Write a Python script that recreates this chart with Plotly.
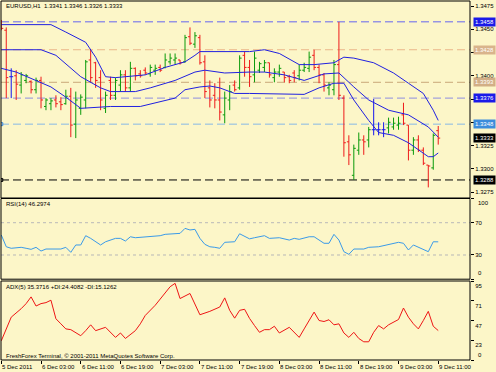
import plotly.graph_objects as go

# ---------------- data ----------------
symbol_title = "EURUSD,H1  1.3341 1.3346 1.3326 1.3333"
rsi_title = "RSI(14) 46.2974"
adx_title = "ADX(5) 35.3716 +DI:24.4082 -DI:15.1262"
copyright_text = "FreshForex Terminal, \u00a9 2001-2011 MetaQuotes Software Corp."

bars = list(range(89))  # hourly bars, 5 Dec 19:00 .. 9 Dec 11:00

opens = [1.3458,1.3449,1.3399,1.3400,1.3390,1.3395,1.3394,1.3385,1.3395,1.3367,
         1.3370,1.3374,1.3372,1.3370,1.3378,1.3348,1.3365,1.3374,1.3417,1.3414,
         1.3398,1.3365,1.3395,1.3379,1.3390,1.3401,1.3387,1.3408,1.3402,1.3406,
         1.3402,1.3406,1.3409,1.3409,1.3415,1.3417,1.3417,1.3415,1.3442,1.3434,
         1.3441,1.3415,1.3387,1.3379,1.3374,1.3358,1.3374,1.3390,1.3387,1.3422,
         1.3409,1.3401,1.3406,1.3409,1.3414,1.3398,1.3404,1.3404,1.3399,1.3403,
         1.3400,1.3406,1.3408,1.3422,1.3409,1.3401,1.3387,1.3385,1.3412,1.3376,
         1.3329,1.3293,1.3320,1.3331,1.3331,1.3342,1.3342,1.3342,1.3344,1.3345,
         1.3347,1.3358,1.3347,1.3320,1.3331,1.3320,1.3304,1.3301,1.3341]
highs = [1.3460,1.3452,1.3408,1.3406,1.3404,1.3402,1.3395,1.3398,1.3399,1.3376,
         1.3376,1.3379,1.3377,1.3385,1.3387,1.3383,1.3380,1.3417,1.3428,1.3415,
         1.3406,1.3383,1.3399,1.3398,1.3406,1.3406,1.3415,1.3409,1.3406,1.3409,
         1.3412,1.3412,1.3412,1.3424,1.3424,1.3424,1.3417,1.3444,1.3452,1.3447,
         1.3444,1.3422,1.3395,1.3392,1.3398,1.3383,1.3390,1.3395,1.3422,1.3426,
         1.3417,1.3426,1.3415,1.3417,1.3414,1.3408,1.3412,1.3404,1.3401,1.3406,
         1.3412,1.3414,1.3426,1.3428,1.3412,1.3403,1.3393,1.3417,1.3458,1.3379,
         1.3336,1.3326,1.3339,1.3336,1.3345,1.3375,1.3350,1.3350,1.3355,1.3355,
         1.3356,1.3371,1.3347,1.3334,1.3336,1.3323,1.3304,1.3338,1.3346]
lows = [1.3449,1.3376,1.3376,1.3374,1.3381,1.3392,1.3381,1.3381,1.3365,1.3363,
        1.3363,1.3366,1.3363,1.3369,1.3334,1.3333,1.3358,1.3365,1.3393,1.3387,
        1.3363,1.3360,1.3374,1.3374,1.3383,1.3383,1.3383,1.3395,1.3398,1.3401,
        1.3399,1.3401,1.3404,1.3408,1.3412,1.3412,1.3412,1.3414,1.3433,1.3430,
        1.3412,1.3376,1.3366,1.3365,1.3352,1.3349,1.3363,1.3383,1.3385,1.3399,
        1.3388,1.3393,1.3403,1.3404,1.3398,1.3393,1.3399,1.3393,1.3392,1.3393,
        1.3395,1.3404,1.3404,1.3406,1.3392,1.3383,1.3379,1.3379,1.3374,1.3313,
        1.3304,1.3288,1.3315,1.3315,1.3323,1.3336,1.3336,1.3334,1.3338,1.3342,
        1.3342,1.3347,1.3309,1.3315,1.3318,1.3304,1.3280,1.3299,1.3326]
closes = [1.3451,1.3398,1.3399,1.3391,1.3401,1.3400,1.3385,1.3395,1.3374,1.3374,
          1.3373,1.3370,1.3369,1.3378,1.3347,1.3374,1.3377,1.3415,1.3398,1.3395,
          1.3374,1.3379,1.3379,1.3395,1.3401,1.3387,1.3408,1.3400,1.3400,1.3403,
          1.3409,1.3408,1.3406,1.3417,1.3419,1.3419,1.3414,1.3441,1.3435,1.3443,
          1.3414,1.3383,1.3374,1.3374,1.3361,1.3376,1.3383,1.3385,1.3419,1.3409,
          1.3399,1.3419,1.3413,1.3414,1.3401,1.3404,1.3408,1.3398,1.3395,1.3398,
          1.3406,1.3409,1.3420,1.3409,1.3401,1.3390,1.3390,1.3412,1.3379,1.3328,
          1.3315,1.3322,1.3331,1.3329,1.3342,1.3342,1.3342,1.3342,1.3350,1.3349,
          1.3349,1.3349,1.3320,1.3331,1.3320,1.3306,1.3303,1.3336,1.3333]

# Bollinger bands
upper_idx = [0,10,13,17,19,21,23,25,29,33,37,39,40,50,53,56,60,63,67,69,71,75,79,82,85,87,88]
upper_val = [1.3455,1.3455,1.3447,1.3436,1.3420,1.3399,1.3398,1.3399,1.3401,1.3409,1.3415,1.3422,1.3426,
             1.3426,1.3428,1.3424,1.3412,1.3412,1.3414,1.3420,1.3419,1.3414,1.3403,1.3392,1.3381,1.3363,1.3352]
middle_idx = [0,8,11,16,20,22,27,30,35,39,41,45,50,53,57,61,65,68,71,74,78,82,86,88]
middle_val = [1.3428,1.3428,1.3422,1.3399,1.3387,1.3383,1.3383,1.3387,1.3395,1.3404,1.3406,1.3403,
              1.3404,1.3404,1.3401,1.3395,1.3402,1.3403,1.3388,1.3374,1.3363,1.3358,1.3345,1.3334]
lower_idx = [0,3,10,13,16,20,22,28,31,35,37,40,42,44,47,50,61,64,67,69,71,74,76,79,82,86,87,88]
lower_val = [1.3408,1.3404,1.3388,1.3377,1.3365,1.3366,1.3367,1.3367,1.3371,1.3376,1.3385,1.3388,1.3389,
             1.3387,1.3381,1.3381,1.3380,1.3387,1.3392,1.3392,1.3374,1.3352,1.3339,1.3336,1.3328,1.3313,1.3313,1.3317]

# RSI(14)
rsi_idx = [0,1,2,4,5,6,7,8,9,12,13,14,15,16,17,18,20,21,23,24,25,26,27,29,30,32,33,35,36,37,
           38,39,40,41,42,43,44,45,47,48,49,50,51,53,54,56,58,59,60,62,63,65,66,67,68,69,70,71,73,74,
           76,78,80,81,82,83,85,86,87,88]
rsi_val = [54.7,40.2,38.3,39.5,38.3,37.0,39.5,34.9,37.4,37.4,39.5,33.3,42.4,42.4,53.9,50.6,42.4,46.4,50.6,50.6,
           47.3,52.6,51.4,52.3,53.1,53.9,55.6,56.0,56.8,63.0,61.0,61.8,50.6,43.2,40.2,39.5,38.3,45.7,46.4,56.3,
           52.6,50.0,51.4,53.9,50.6,51.4,48.5,50.6,49.4,52.6,52.6,44.5,44.5,55.6,48.5,34.1,30.8,37.4,37.4,39.5,
           40.2,43.2,45.7,44.5,36.2,42.4,37.4,34.1,46.4,46.3]
rsi_levels = [30, 70]
rsi_ticks = [0, 30, 70, 100]
rsi_tick_text = ["0", "30", "70", "100"]

# ADX(5)
adx_idx = [0,1,2,4,5,6,7,8,9,10,11,12,13,14,16,17,18,19,21,23,24,25,27,28,29,31,33,34,35,36,
           38,40,42,44,45,46,47,48,49,50,51,52,53,54,55,56,58,59,60,61,63,64,65,66,67,68,69,70,71,72,
           73,74,75,76,77,78,80,81,82,83,84,85,86,87,88]
adx_val = [23.1,37.4,51.5,61.7,67.8,75.9,64.9,67.8,69.0,71.9,49.6,43.5,37.4,36.5,29.2,35.3,42.3,35.3,39.3,27.2,
           32.5,25.9,35.3,43.5,53.6,65.8,80.0,88.1,92.2,73.9,80.0,54.4,58.5,63.7,74.7,59.7,50.3,59.7,61.0,50.0,
           41.4,33.3,36.5,36.5,40.6,32.5,39.3,33.3,27.2,37.4,57.6,47.5,46.3,48.4,42.3,43.5,32.5,27.2,33.3,25.9,
           21.9,21.9,33.3,41.4,37.4,42.3,48.7,62.5,51.5,43.5,37.4,47.5,58.5,40.6,35.4]
adx_ticks = [0, 23.75, 47.5, 71.25, 95]
adx_tick_text = ["0", "23", "47", "71", "95"]

# horizontal line objects
level_prices = [1.3458, 1.3428, 1.3393, 1.3376, 1.3348, 1.3288]
price_ticks = [1.3275, 1.3300, 1.3325, 1.3350, 1.3375, 1.3400, 1.3425, 1.3450, 1.3475]
# labels that the price boxes cover are left blank
price_tick_text = ["1.3275", "1.3300", "1.3325", "", "", "1.3400", "", "1.3450", "1.3475"]
marker_prices = [1.3348, 1.3288]

date_idx = [0, 8, 16, 24, 32, 40, 48, 56, 64, 72, 80, 88]
date_labels = ["5 Dec 2011", "6 Dec 03:00", "6 Dec 11:00", "6 Dec 19:00", "7 Dec 03:00", "7 Dec 11:00",
               "7 Dec 19:00", "8 Dec 03:00", "8 Dec 11:00", "8 Dec 19:00", "9 Dec 03:00", "9 Dec 11:00"]

# ---------------- styles ----------------
W, H = 496, 372
BG = "#fcf6c8"
FONT = "Liberation Sans, Arial, sans-serif"
FS = 6
level_line_colors = ["#6464f0", "#ebb68a", "#c8a878", "#8e8ee0", "#86b8e6", "#000000"]
level_box_colors = ["#1a1ae8", "#d9b48c", "#d2ae86", "#1a1ae8", "#3c8cdc", "#000000"]
marker_colors = ["#3c8cdc", "#000000"]
UP, DOWN, DOJI = "#0a9a0a", "#ee1a1a", "#1515f0"
BAND = "#2020e0"

X_L, X_R = 1, 470           # panel pixel extents
MAIN = (1, 198)
RSI = (198.5, 279.2)
ADX = (281, 360)


def px(x):
    return x / W


def py(y):
    return 1 - y / H


fig = go.Figure()

groups = {"up": ([], UP), "down": ([], DOWN), "doji": ([], DOJI)}
for i in bars:
    if closes[i] > opens[i]:
        groups["up"][0].append(i)
    elif closes[i] < opens[i]:
        groups["down"][0].append(i)
    else:
        groups["doji"][0].append(i)

for name, (idx, col) in groups.items():
    fig.add_trace(go.Ohlc(
        x=idx,
        open=[opens[i] for i in idx], high=[highs[i] for i in idx],
        low=[lows[i] for i in idx], close=[closes[i] for i in idx],
        increasing=dict(line=dict(color=col, width=1)),
        decreasing=dict(line=dict(color=col, width=1)),
        tickwidth=0.4, xaxis="x", yaxis="y", hoverinfo="skip", showlegend=False))

for bx, bv in ((upper_idx, upper_val), (middle_idx, middle_val), (lower_idx, lower_val)):
    fig.add_trace(go.Scatter(x=bx, y=bv, mode="lines", line=dict(color=BAND, width=1),
                             xaxis="x", yaxis="y", hoverinfo="skip", showlegend=False))

fig.add_trace(go.Scatter(x=[bars[0]] * len(marker_prices), y=marker_prices, mode="markers",
                         marker=dict(symbol="square-open", size=3, color=marker_colors, line=dict(width=1)),
                         xaxis="x", yaxis="y", hoverinfo="skip", showlegend=False))

fig.add_trace(go.Scatter(x=rsi_idx, y=rsi_val, mode="lines", line=dict(color="#3a9ae8", width=1),
                         xaxis="x", yaxis="y2", hoverinfo="skip", showlegend=False))
fig.add_trace(go.Scatter(x=adx_idx, y=adx_val, mode="lines", line=dict(color="#ee1515", width=1),
                         xaxis="x", yaxis="y3", hoverinfo="skip", showlegend=False))

shapes = []
for p, c in zip(level_prices, level_line_colors):
    shapes.append(dict(type="line", xref="paper", yref="y", x0=px(X_L), x1=px(X_R), y0=p, y1=p,
                       line=dict(color=c, width=1, dash="8px,4px"), layer="below"))
for lv in rsi_levels:
    shapes.append(dict(type="line", xref="paper", yref="y2", x0=px(X_L), x1=px(X_R), y0=lv, y1=lv,
                       line=dict(color="#b8b8b8", width=1, dash="3px,3px"), layer="below"))
for top, bot in (MAIN, RSI, ADX):
    shapes.append(dict(type="rect", xref="paper", yref="paper", x0=px(X_L), x1=px(X_R),
                       y0=py(bot), y1=py(top), line=dict(color="#000000", width=1)))

annotations = []
for p, c in zip(level_prices, level_box_colors):
    annotations.append(dict(xref="paper", yref="y", x=px(473), y=p, xanchor="left", yanchor="middle",
                            text=f"{p:.4f}", showarrow=False, bgcolor=c, borderpad=1,
                            font=dict(family=FONT, size=FS, color="#ffffff")))
annotations.append(dict(xref="paper", yref="y", x=px(473), y=closes[-1], xanchor="left", yanchor="middle",
                        text=f"{closes[-1]:.4f}", showarrow=False, bgcolor="#000000", borderpad=1,
                        font=dict(family=FONT, size=FS, color="#ffffff")))

for txt, yy in ((symbol_title, 6.5), (rsi_title, 204.5), (adx_title, 286.5), (copyright_text, 356)):
    annotations.append(dict(xref="paper", yref="paper", x=px(4), y=py(yy), xanchor="left", yanchor="middle",
                            text=txt, showarrow=False, font=dict(family=FONT, size=FS, color="#000000")))

for di, dl in zip(date_idx, date_labels):
    annotations.append(dict(xref="x", yref="paper", x=di, y=py(367), xanchor="left", yanchor="middle",
                            text=dl, showarrow=False, xshift=-1,
                            font=dict(family=FONT, size=FS, color="#000000")))

# edge labels of the indicator panels sit inside the panel (as in the terminal)
annotations.append(dict(xref="paper", yref="y2", x=px(476), y=rsi_ticks[-1], xanchor="left", yanchor="top",
                        yshift=1, text=rsi_tick_text[-1], showarrow=False,
                        font=dict(family=FONT, size=FS, color="#000000")))
annotations.append(dict(xref="paper", yref="y2", x=px(476), y=rsi_ticks[0], xanchor="left", yanchor="bottom",
                        yshift=1, text=rsi_tick_text[0], showarrow=False,
                        font=dict(family=FONT, size=FS, color="#000000")))
annotations.append(dict(xref="paper", yref="y3", x=px(476), y=adx_ticks[0], xanchor="left", yanchor="bottom",
                        yshift=0, text=adx_tick_text[0], showarrow=False,
                        font=dict(family=FONT, size=FS, color="#000000")))

axis_common = dict(showgrid=False, zeroline=False, showline=False, fixedrange=True)
fig.update_layout(
    width=W, height=H, margin=dict(l=0, r=0, t=0, b=0),
    paper_bgcolor=BG, plot_bgcolor=BG, showlegend=False, hovermode=False,
    font=dict(family=FONT, size=FS, color="#000000"),
    xaxis=dict(domain=[px(X_L), px(X_R)], range=[-0.06, 94.4], anchor="y3", ticks="outside",
               ticklen=3, tickcolor="#000000", tickvals=date_idx, showticklabels=False,
               rangeslider=dict(visible=False), **axis_common),
    yaxis=dict(domain=[py(MAIN[1]), py(MAIN[0])], range=[1.32686, 1.34804], side="right", anchor="x",
               tickvals=price_ticks, ticktext=price_tick_text, ticks="outside", ticklen=3,
               tickcolor="#000000", tickfont=dict(family=FONT, size=FS), **axis_common),
    yaxis2=dict(domain=[py(RSI[1]), py(RSI[0])], range=[0, 100], side="right", anchor="x",
                tickvals=rsi_ticks, ticktext=["", rsi_tick_text[1], rsi_tick_text[2], ""],
                ticks="outside", ticklen=3, tickcolor="#000000",
                tickfont=dict(family=FONT, size=FS), **axis_common),
    yaxis3=dict(domain=[py(ADX[1]), py(ADX[0])], range=[0, 95], side="right", anchor="x",
                tickvals=adx_ticks, ticktext=[""] + adx_tick_text[1:], ticks="outside", ticklen=3,
                ticklabelshift=5, tickcolor="#000000", tickfont=dict(family=FONT, size=FS),
                **axis_common),
    shapes=shapes, annotations=annotations,
)

fig.write_html(
    "out.html",
    config={"displayModeBar": False, "staticPlot": True},
    post_script="document.body.style.margin='0';document.body.style.overflow='hidden';",
)
